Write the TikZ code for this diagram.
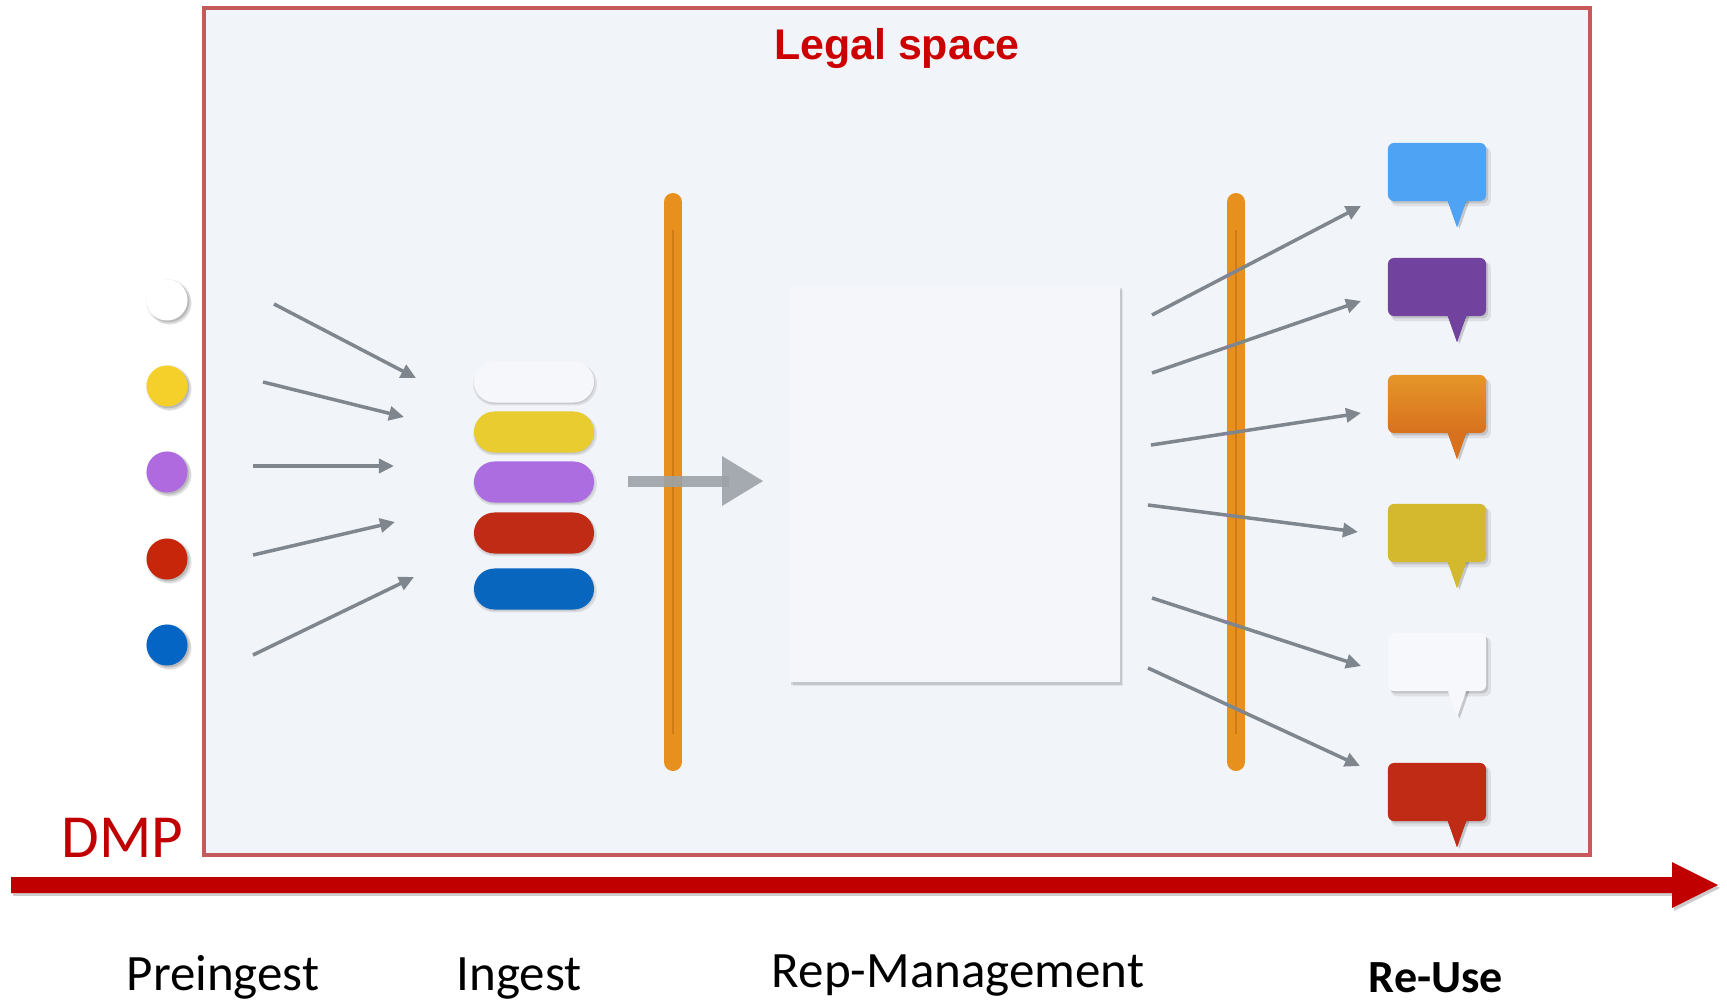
\documentclass[tikz,border=0pt]{standalone}
\usepackage{fontspec}
\setmainfont{Carlito}
\newfontfamily\arialfont{Liberation Sans}
\usetikzlibrary{arrows.meta,shadows,shapes.misc}

\definecolor{bgpanel}{HTML}{F1F4F9}
\definecolor{panelred}{HTML}{C65A5A}
\definecolor{titlered}{HTML}{CC0000}
\definecolor{dmpred}{HTML}{C00000}
\definecolor{arrowgray}{HTML}{80868E}
\definecolor{softgray}{HTML}{9CA2A7}
\definecolor{barorange}{HTML}{E8901E}
\definecolor{bardark}{HTML}{B86A10}
\definecolor{dotwhite}{HTML}{FFFFFF}
\definecolor{dotyellow}{HTML}{F5D02A}
\definecolor{dotpurple}{HTML}{B06AE0}
\definecolor{dotred}{HTML}{C8260A}
\definecolor{dotblue}{HTML}{0565C4}
\definecolor{pillwhite}{HTML}{F5F7FB}
\definecolor{pillyellow}{HTML}{E8CC30}
\definecolor{pillpurple}{HTML}{AB6DDF}
\definecolor{pillred}{HTML}{BF2B15}
\definecolor{pillblue}{HTML}{0866BE}
\definecolor{bubblue}{HTML}{4EA3F5}
\definecolor{bubpurple}{HTML}{72439E}
\definecolor{buborangetop}{HTML}{E5962A}
\definecolor{buborangebot}{HTML}{D8711D}
\definecolor{bubmustard}{HTML}{D4B82E}
\definecolor{bubwhite}{HTML}{F6F8FB}
\definecolor{bubred}{HTML}{BF2B15}
\definecolor{squarefill}{HTML}{F4F6FA}

% a bubble: node name, top edge, fill options, tail colour
\newcommand\speechbubble[4]{%
  \fill[#4, tailshadow] (1447,{#2+56}) -- (1457,{#2+84}) -- (1467,{#2+56}) -- cycle;
  \node[bubblebox, #3] (#1) at (1437,{#2+29}) {};
  \fill[#4] (1447,{#2+55}) -- (1457,{#2+84}) -- (1467,{#2+55}) -- cycle;
}

\begin{document}
\begin{tikzpicture}[x=0.01cm, y=-0.01cm,
  softshadow/.style={
    drop shadow={shadow xshift=1.1pt, shadow yshift=-1.3pt, shadow scale=1.02, opacity=0.08, fill=black},
    drop shadow={shadow xshift=0.6pt, shadow yshift=-0.7pt, opacity=0.13, fill=black}},
  tailshadow/.style={drop shadow={shadow xshift=0.7pt, shadow yshift=-0.5pt, opacity=0.18, fill=black}},
  legalbox/.style={draw=panelred, line width=0.04cm, fill=bgpanel, inner sep=0, minimum width=13.86cm, minimum height=8.47cm},
  dot/.style={circle, inner sep=0, minimum size=0.41cm,
    drop shadow={shadow xshift=0.4pt, shadow yshift=-0.4pt, shadow scale=1.09, opacity=0.07, fill=black},
    drop shadow={shadow xshift=0.9pt, shadow yshift=-0.9pt, shadow scale=1.04, opacity=0.09, fill=black},
    drop shadow={shadow xshift=0.5pt, shadow yshift=-0.5pt, opacity=0.14, fill=black}},
  pill/.style={rounded rectangle, inner sep=0, minimum width=1.2cm, minimum height=0.41cm,
    drop shadow={shadow xshift=0.3pt, shadow yshift=-0.6pt, shadow scale=1.03, opacity=0.09, fill=black},
    drop shadow={shadow xshift=0.2pt, shadow yshift=-0.4pt, opacity=0.09, fill=black}},
  bubblebox/.style={rectangle, rounded corners=0.06cm, inner sep=0, minimum width=0.98cm, minimum height=0.58cm, softshadow},
  garrow/.style={arrowgray, line width=0.035cm, -{Triangle[length=0.15cm, width=0.14cm]}},
  obar/.style={barorange, line width=0.18cm, line cap=round},
  label/.style={inner sep=0, anchor=base, font=\fontsize{14.5}{17}\selectfont},
]
\useasboundingbox (0,0) rectangle (1727,1000);

% legal space panel
\node[legalbox] (legal) at (897,431.5) {};
\node[inner sep=0, anchor=base, text=titlered, font=\arialfont\bfseries\fontsize{12.2}{14}\selectfont] (title) at (897,59) {Legal space};

% incoming objects
\node[dot, fill=dotwhite]  (c1) at (167,300) {};
\node[dot, fill=dotyellow] (c2) at (167,386) {};
\node[dot, fill=dotpurple] (c3) at (167,472) {};
\node[dot, fill=dotred]    (c4) at (167,559) {};
\node[dot, fill=dotblue]   (c5) at (167,645) {};

% arrows into ingest
\coordinate (la1s) at (274,304); \coordinate (la1e) at (416,378);
\coordinate (la2s) at (263,382); \coordinate (la2e) at (404,417);
\coordinate (la3s) at (253,466); \coordinate (la3e) at (394,466);
\coordinate (la4s) at (253,555); \coordinate (la4e) at (395,522);
\coordinate (la5s) at (253,655); \coordinate (la5e) at (414,577);
\foreach \i in {1,...,5} \draw[garrow] (la\i s) -- (la\i e);

% ingested packages
\node[pill, fill=pillwhite]  (p1) at (534,382) {};
\node[pill, fill=pillyellow] (p2) at (534,432) {};
\node[pill, fill=pillpurple] (p3) at (534,482) {};
\node[pill, fill=pillred]    (p4) at (534,533) {};
\node[pill, fill=pillblue]   (p5) at (534,589) {};

% repository square
\node[rectangle, inner sep=0, minimum width=3.3cm, minimum height=3.96cm, fill=squarefill,
      drop shadow={shadow xshift=0.9pt, shadow yshift=-1.2pt, opacity=0.07, fill=black},
      drop shadow={shadow xshift=0.4pt, shadow yshift=-0.7pt, opacity=0.12, fill=black}] (rep) at (955,484) {};

% first barrier
\coordinate (b1t) at (673,202); \coordinate (b1b) at (673,762);
\draw[obar] (b1t) -- (b1b);
\draw[bardark, line width=0.3pt, opacity=0.5] ([yshift=-8pt]b1t) -- ([yshift=8pt]b1b);

% transfer arrow into the repository
\coordinate (gs) at (628,481); \coordinate (gm) at (722,481); \coordinate (gt) at (763,481);
\draw[softgray, line width=0.11cm, opacity=0.9] (gs) -- ([xshift=2pt]gm);
\fill[softgray, opacity=0.9] (722,456) -- (gt) -- (722,506) -- cycle;

% second barrier
\coordinate (b2t) at (1236,202); \coordinate (b2b) at (1236,762);
\draw[obar] (b2t) -- (b2b);
\draw[bardark, line width=0.3pt, opacity=0.5] ([yshift=-8pt]b2t) -- ([yshift=8pt]b2b);

% outgoing arrows to re-use
\coordinate (ra1s) at (1152,315); \coordinate (ra1e) at (1361,206);
\coordinate (ra2s) at (1152,373); \coordinate (ra2e) at (1361,301);
\coordinate (ra3s) at (1151,445); \coordinate (ra3e) at (1361,413);
\coordinate (ra4s) at (1148,505); \coordinate (ra4e) at (1358,532);
\coordinate (ra5s) at (1152,598); \coordinate (ra5e) at (1361,666);
\coordinate (ra6s) at (1148,668); \coordinate (ra6e) at (1360,766);
\foreach \i in {1,...,6} \draw[garrow] (ra\i s) -- (ra\i e);

% re-use bubbles
\speechbubble{s1}{143}{fill=bubblue}{bubblue}
\speechbubble{s2}{258}{fill=bubpurple}{bubpurple}
\speechbubble{s3}{375}{top color=buborangetop, bottom color=buborangebot}{buborangebot}
\speechbubble{s4}{504}{fill=bubmustard}{bubmustard}
\speechbubble{s5}{633}{fill=bubwhite}{bubwhite}
\speechbubble{s6}{763}{fill=bubred}{bubred}

% DMP timeline
\node[inner sep=0, anchor=base west, text=dmpred, font=\fontsize{17.4}{20}\selectfont] (dmp) at (61,857) {DMP};
\fill[dmpred, drop shadow={shadow xshift=0.6pt, shadow yshift=-0.8pt, opacity=0.2, fill=black}]
  (11,877) -- (1672,877) -- (1672,862) -- (1718,885) -- (1672,908) -- (1672,893) -- (11,893) -- cycle;

% phase labels
\node[label] (pre) at (223,990) {Preingest};
\node[label] (ing) at (519,990) {Ingest};
\node[label] (rm)  at (958,987) {Rep-Management};
\node[label, font=\bfseries\fontsize{13.1}{15}\selectfont] (ru) at (1436,992) {Re-Use};
\end{tikzpicture}
\end{document}
